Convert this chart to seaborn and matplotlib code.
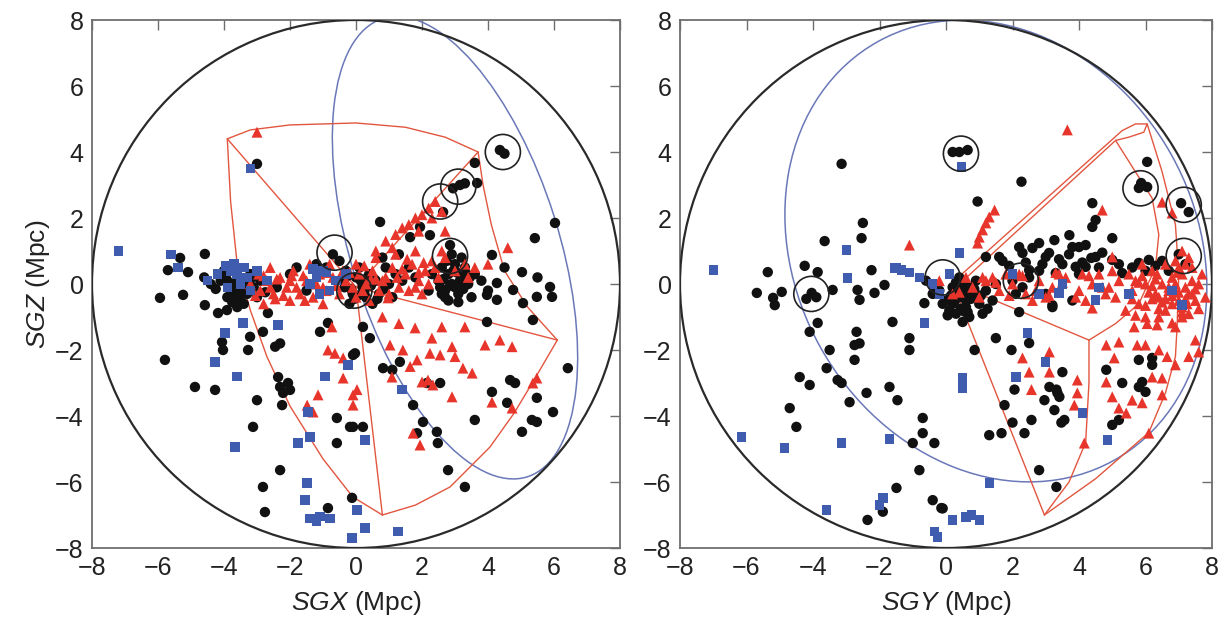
import numpy as np
import pandas as pd
import matplotlib
matplotlib.use("Agg")
import matplotlib.pyplot as plt
from matplotlib.patches import Circle, Ellipse
import seaborn as sns

# ---------------- data: left panel (SGX, SGZ) ----------------
left_black_x = [-3.9,-3.7,-3.5,-3.6,-3.4,-3.8,-3.3,-3.1,-3.9,-3.5,-3.2,-4.1,-3.0,-3.7,-3.4,-3.6,-4.4,-4.6,-4.0,-2.9,
                -5.94,-5.24,-4.58,-4.18,-3.91,-5.79,-4.88,-4.27,-4.06,-4.03,-3.27,-3.21,-2.82,-2.67,-2.45,-2.3,-2.36,-2.3,-2.06,-2.0,
                -2.24,-2.21,-3.0,-3.12,-2.3,-2.82,-2.76,-0.85,-0.12,-1.09,-0.85,-0.58,-0.09,-0.58,-0.09,-3.0,-4.58,-5.33,-5.7,-5.09,
                4.36,4.5,3.6,3.67,3.15,2.94,3.3,2.64,0.73,6.03,5.42,5.03,1.94,2.24,1.64,2.85,4.12,
                -0.7,-0.5,-0.9,-0.3,0.1,0.4,0.6,0.2,-0.1,0.3,0.7,1.0,1.2,0.9,1.4,-0.4,0.0,0.5,1.1,1.6,1.8,0.8,1.3,-0.2,
                2.6,2.8,3.0,3.2,2.9,2.7,3.1,3.4,2.5,3.3,2.8,3.0,3.5,2.6,3.2,2.9,3.6,2.3,3.8,4.0,2.2,
                3.97,4.27,4.27,4.76,5.06,5.36,5.48,5.88,5.94,3.97,4.5,5.5,
                0.21,0.42,-0.03,0.82,1.1,1.33,1.73,2.03,2.45,2.48,1.85,2.79,3.3,3.6,4.12,4.58,4.67,4.82,5.03,5.33,
                5.48,5.48,5.97,6.42,2.15,2.55,-0.18,0.21,-2.0,-1.5,-2.4,-1.8,-1.2,
                -3.8,-3.55,-3.3,-3.65,-3.45,-3.95,-3.25,-3.75,-4.25,-3.15,-2.75,
                -0.15,0.05,0.25,0.45,-0.35,0.15,0.35,-0.05,0.65,0.55,-0.25,0.85,
                2.65,2.85,3.05,3.25,2.75,2.95,3.15,3.35,2.55,3.45,2.7,3.1]
left_black_z = [0.1,0.0,-0.1,0.2,0.1,-0.2,-0.3,-0.1,-0.4,-0.5,0.3,0.1,-0.4,-0.3,-0.6,-0.7,0.0,0.2,0.4,0.1,
                -0.42,-0.33,-0.64,-0.88,-0.79,-2.3,-3.12,-3.21,-1.76,-2.0,-2.0,-1.6,-1.45,-0.88,-1.9,-1.8,-2.82,-3.12,-3.0,-3.21,
                -3.67,-3.3,-3.52,-4.33,-5.64,-6.15,-6.91,-6.79,-6.48,-1.45,-1.18,-4.06,-4.33,-4.82,-2.15,3.64,0.91,0.79,0.42,0.36,
                4.06,3.95,3.67,3.06,3.0,2.9,3.05,2.18,1.88,1.85,1.39,0.36,1.73,1.48,1.42,1.18,0.88,
                0.9,0.7,0.5,0.4,0.5,0.3,0.1,-0.1,-0.3,-0.4,-0.3,0.0,0.3,0.5,0.1,0.1,0.2,-0.6,-0.4,0.5,0.2,0.8,0.9,-0.6,
                0.5,0.3,0.6,0.2,0.0,-0.2,-0.3,0.0,0.1,0.5,-0.5,-0.1,-0.4,-0.3,0.8,0.9,0.3,0.3,0.1,-0.2,-0.2,
                -0.33,-0.48,0.03,-0.18,-0.58,-1.09,-0.39,-0.09,-0.39,-1.15,0.5,0.2,
                -1.3,-1.64,-2.1,-2.55,-2.6,-2.36,-3.67,-4.18,-4.48,-4.82,-4.52,-5.64,-6.15,-4.12,-3.27,-3.6,-2.91,-3.0,-4.48,-4.12,
                -4.18,-3.45,-3.88,-2.55,-3.0,-3.0,-4.33,-4.33,0.3,-0.2,-0.1,0.5,0.6,
                -0.05,0.15,-0.15,-0.45,-0.25,0.25,0.05,-0.55,-0.15,0.2,-0.25,
                -0.15,-0.35,-0.25,-0.05,-0.1,0.1,0.2,-0.45,-0.45,0.15,0.25,-0.15,
                0.15,-0.05,0.35,-0.15,0.7,0.4,0.1,0.3,-0.1,0.2,-0.4,-0.55]

left_red_x = [-3.0,
              0.9,1.2,1.4,1.6,1.8,2.0,2.2,2.4,2.3,1.9,2.6,1.1,2.7,0.6,
              -3.2,-2.9,-2.7,-2.5,-2.3,-2.1,-1.9,-1.7,-1.5,-1.3,-1.1,-0.9,-0.7,-0.5,-0.3,-0.1,0.1,0.3,0.5,0.7,
              0.9,1.1,1.3,1.5,1.7,1.9,2.1,2.3,2.5,2.7,3.0,3.3,3.6,-2.6,-2.0,-1.4,-0.8,0.0,0.6,1.2,
              1.8,-2.8,-1.0,0.4,2.0,4.0,4.6,0.0,-0.4,0.8,1.6,
              1.79,2.3,1.03,1.42,2.24,2.55,2.91,3.3,1.85,1.64,1.09,2.0,2.18,2.33,2.91,3.24,3.52,3.91,4.36,4.73,
              5.48,5.36,4.12,4.73,1.73,1.94,0.03,-0.09,0.97,-0.85,-0.64,-0.39,-0.39,-1.15,-1.48,-1.3,-0.09,-0.73,0.8,1.3,
              2.6,3.0,
              -3.05,-2.8,-2.6,-2.4,-2.2,-2.0,-1.8,-1.6,-1.2,-1.0,-0.6,-0.2,0.2,0.6,1.0,1.4,1.8,2.2,2.4,
              -2.95,-2.45,-1.95,-1.55,-0.85,0.45,1.25,2.05,0.25,1.55,1.9,2.6,3.4]
left_red_z = [4.6,
              1.3,1.5,1.7,1.8,2.0,2.1,2.3,2.5,2.0,1.6,2.2,1.1,1.6,1.0,
              0.0,-0.2,0.1,-0.3,0.2,-0.1,0.4,-0.3,0.1,-0.4,0.3,-0.2,0.2,-0.3,0.1,-0.1,0.3,0.0,0.4,-0.2,
              0.2,0.5,-0.1,0.3,0.6,0.1,0.4,0.7,0.2,0.8,0.4,0.6,0.5,0.5,-0.5,0.6,0.6,0.6,0.8,0.9,
              1.0,-0.6,-0.6,-0.5,-0.3,0.6,1.1,-0.4,0.4,0.1,-0.2,
              -1.33,-1.64,-1.85,-2.0,-2.1,-2.15,-1.9,-1.3,-2.3,-2.5,-2.82,-2.97,-2.91,-3.06,-3.42,-2.55,-2.7,-1.85,-1.7,-1.9,
              -2.85,-3.0,-3.58,-3.76,-4.52,-4.88,-3.2,-3.67,-0.42,-2.0,-2.1,-2.24,-2.85,-3.36,-3.67,-3.88,-3.36,-1.3,-1.0,-1.2,
              -1.3,-2.2,
              -0.35,0.25,-0.1,0.15,-0.35,0.1,-0.1,0.25,0.0,-0.1,-0.05,0.35,-0.2,0.15,-0.3,0.45,-0.1,0.0,0.5,
              0.3,-0.45,0.25,-0.5,0.35,0.15,0.2,0.65,0.55,0.75,0.35,1.0,0.2]

left_blue_x = [-7.2,-5.6,-5.4,-3.2,-3.8,-3.6,-3.4,-3.3,-3.9,-3.5,-3.2,-4.2,-4.5,-3.0,-2.7,-1.2,-1.0,-0.8,-1.4,-0.6,
               -1.1,-0.3,-3.42,-2.36,-3.97,-4.27,-3.6,-3.67,-1.76,-1.39,-0.94,-1.48,-1.55,-1.39,-1.09,-0.79,-0.12,0.03,-0.24,-1.45,
               1.39,0.27,0.27,1.27,-1.2,-3.7,-3.95,-1.3,-0.9]
left_blue_z = [1.0,0.9,0.5,3.5,0.4,0.3,0.5,0.2,-0.1,0.0,-0.2,0.3,0.1,0.4,0.1,0.2,0.4,-0.2,0.0,0.1,
               -0.3,0.3,-1.18,-1.24,-1.48,-2.36,-2.8,-4.94,-4.82,-4.64,-2.8,-6.03,-6.55,-7.1,-7.05,-7.1,-7.7,-6.85,-2.45,-3.88,
               -3.2,-4.73,-7.4,-7.5,-7.2,0.6,0.55,0.45,0.35]

left_ring_x = [4.45, 3.1, 2.55, 2.85, -0.65, -0.05]
left_ring_z = [4.0, 2.95, 2.5, 0.85, 0.95, -0.2]

# red outline (cone) in the SGX-SGZ projection
left_cone_apex = (0.0, -0.1)
left_cone_corners_x = [-3.9, 3.7, 6.1, 0.8]
left_cone_corners_z = [4.4, 4.0, -1.7, -7.0]
left_arc_ab_x = [-3.9,-3.2,-2.0,0.0,1.5,2.7,3.7]
left_arc_ab_z = [4.4,4.67,4.82,4.88,4.75,4.45,4.0]
left_arc_bc_x = [3.7,3.85,4.1,4.5,5.2,6.1]
left_arc_bc_z = [4.0,3.0,1.8,0.4,-0.7,-1.7]
left_arc_cd_x = [6.1,5.4,4.8,4.06,2.85,1.8,0.8]
left_arc_cd_z = [-1.7,-2.9,-3.9,-4.94,-6.15,-6.7,-7.0]
left_arc_da_x = [0.8,-0.1,-1.0,-2.0,-2.7,-3.2,-3.6,-3.8,-3.9]
left_arc_da_z = [-7.0,-6.45,-5.3,-3.7,-2.2,-0.8,0.6,2.5,4.4]
left_ellipse = dict(cx=3.0, cz=1.1, width=14.56, height=6.3, angle=-72.5)

# ---------------- data: right panel (SGY, SGZ) ----------------
right_black_y = [-3.14,-2.5,-2.54,-3.65,-5.36,-4.25,-3.86,-2.24,
                 -5.69,-5.2,-5.15,-4.94,-4.04,-4.2,-3.9,-3.41,-3.86,-4.1,-3.5,-3.59,-3.26,-3.14,-4.4,-4.1,-2.9,-4.7,-4.5,
                 -2.69,-2.75,-2.6,-2.75,-2.39,-1.7,-1.46,-1.61,-1.1,-1.1,-0.7,-0.7,-1.0,-0.35,-0.8,-1.49,-1.9,-2.36,-0.4,-0.14,
                 -2.66,-2.6,-2.15,-1.85,-0.65,
                 0.56,2.2,3.2,1.5,0.86,1.97,2.5,2.06,1.76,2.0,2.57,1.3,1.67,2.36,2.96,3.11,3.32,3.41,3.26,3.35,3.47,3.56,3.5,
                 2.8,3.32,4.82,5.0,5.2,5.3,5.8,6.0,5.9,5.8,6.2,6.2,-0.1,
                 2.27,0.95,4.4,4.5,4.4,6.05,5.87,6.05,5.8,7.07,7.3,0.65,0.4,0.2,5.0,3.71,3.26,2.8,2.6,2.2,2.3,1.6,4.0,4.2,3.8,
                 3.1,3.0,4.37,4.5,5.0,5.8,6.1,1.2,3.9,4.2,3.3,2.5,5.3,3.2,
                 -0.2,0.0,0.2,0.4,0.6,0.8,1.0,1.2,0.1,0.5,0.9,-0.1,0.3,0.7,1.1,1.4,0.4,-0.4,-0.6,1.5,0.6,0.2,
                 2.0,2.3,2.5,2.1,2.8,3.5,4.0,4.6,5.2,5.6,6.0,6.5,7.0,7.2,3.0,3.8,
                 0.15,0.35,0.55,0.75,0.95,0.25,0.45,0.65,0.85,1.05,0.05,1.25,0.3,0.7,0.5,
                 2.9,3.4,3.7,4.1,4.7,1.9,2.4,6.3,6.7,1.7]
right_black_z = [3.64,1.85,1.39,1.3,0.36,0.55,0.36,0.42,
                 -0.27,-0.42,-0.64,-0.24,-0.27,-0.45,-0.4,-0.18,-1.18,-1.45,-2.0,-2.55,-2.91,-3.0,-2.82,-3.06,-3.58,-3.76,-4.33,
                 -1.45,-1.85,-1.8,-2.3,-3.3,-3.12,-3.52,-1.15,-1.64,-2.0,-4.06,-4.52,-4.82,-4.82,-5.64,-6.18,-6.9,-7.15,-6.55,-6.79,
                 -0.18,-0.48,-0.27,-0.03,-0.58,
                 -0.84,-0.85,-0.64,-1.64,-2.0,-2.0,-1.79,-3.2,-3.67,-4.2,-4.12,-4.58,-4.52,-4.52,-3.52,-3.12,-3.2,-3.42,-3.82,-3.3,-4.2,-4.12,-2.67,
                 -5.64,-6.15,-2.6,-4.27,-4.12,-3.0,-3.12,-3.27,-2.97,-2.3,-2.24,-2.45,-6.8,
                 3.1,2.5,2.45,1.94,1.73,3.7,3.06,2.94,2.91,2.45,2.18,4.06,4.0,4.0,1.39,1.48,1.33,1.24,1.09,1.12,0.94,0.82,1.12,1.18,1.12,
                 0.94,0.82,0.79,0.82,0.73,0.64,0.73,0.82,0.52,0.52,0.33,0.42,0.33,-0.7,
                 -0.2,-0.5,-0.1,-0.4,-0.7,-0.3,-0.6,-0.2,-0.8,0.0,0.1,-0.6,-0.9,-1.0,-0.9,-0.5,0.2,-0.3,0.1,0.0,-0.5,-0.6,
                 0.1,-0.1,0.2,-0.3,0.4,0.6,0.3,0.5,0.6,0.5,0.4,0.7,0.9,0.6,-0.3,-0.5,
                 -0.35,-0.15,-0.25,-0.45,-0.35,-0.55,-0.75,-0.85,-0.15,-0.35,-0.95,-0.75,0.05,-0.1,-1.15,
                 0.6,0.75,0.9,0.65,0.95,0.55,0.65,0.55,0.4,0.7]

right_red_y = [-1.1,3.65,4.7,1.46,1.3,1.2,1.1,1.0,0.95,6.5,6.8,6.9,7.1,7.3,7.0,7.2,
               2.3,2.5,2.57,3.11,3.11,3.95,3.95,3.86,4.16,4.82,5.2,5.06,4.82,5.0,5.2,5.42,5.6,5.9,5.66,6.35,5.75,6.0,
               6.4,6.65,6.9,6.2,6.5,6.5,6.1,7.5,7.6,7.3,4.4,7.1,6.8,5.0,
               0.8,1.2,1.6,2.0,2.4,2.8,3.2,3.6,4.0,4.4,4.8,5.2,5.6,6.0,6.4,6.8,7.2,7.6,1.0,1.8,2.6,3.4,4.2,5.0,
               5.8,6.2,6.6,7.0,7.4,7.8,5.4,6.0,6.9,7.3,5.5,6.3,7.1,6.7,4.6,3.0,2.2,1.4,0.6,-0.2,0.2,5.9,6.6,7.5,
               7.7,6.4,5.7,
               5.6,5.8,6.1,6.3,6.5,6.7,6.9,7.1,7.3,7.5,5.7,6.0,6.2,6.4,6.6,6.8,7.0,7.2,7.4,7.6,
               5.9,6.2,6.5,6.8,7.1,7.4,6.05,6.35,6.95,7.25,
               1.1,1.5,1.9,2.3,2.7,3.1,3.5,3.9,4.3,4.7,5.1,0.4,3.3,4.1,4.9]
right_red_z = [1.18,4.67,2.24,2.24,2.03,1.85,1.64,1.42,1.24,2.48,2.15,0.7,1.0,0.8,0.5,0.6,
               -2.24,-2.67,-3.2,-2.06,-2.67,-2.91,-3.3,-3.67,-4.82,-1.85,-1.76,-2.24,-2.97,-3.42,-3.76,-3.91,-3.52,-3.6,-1.3,-1.24,-1.85,-1.85,
               -2.0,-2.2,-2.45,-2.82,-2.85,-3.36,-4.52,-1.7,-2.06,-2.2,-0.73,-1.0,-1.18,0.82,
               -0.1,0.1,-0.2,0.0,-0.3,0.1,-0.1,0.2,-0.2,0.0,-0.3,0.1,-0.2,0.0,-0.4,0.2,-0.1,0.0,-0.4,0.3,-0.5,0.3,-0.5,0.4,
               -0.6,0.4,-0.8,-0.5,0.5,-0.4,-0.8,-1.0,-1.3,-0.9,0.3,-0.3,0.3,-0.1,0.3,-0.4,0.3,0.2,0.2,0.1,-0.3,0.6,0.6,-0.5,
               0.3,-1.0,0.1,
               -0.45,0.05,-0.25,0.15,-0.55,-0.2,0.0,-0.7,-0.3,-0.15,-0.95,-0.65,-0.05,-0.75,-0.45,-0.6,-0.25,-0.45,0.1,-0.75,
               0.25,-0.45,0.0,-0.35,-0.85,-0.3,-1.2,0.3,0.35,-0.6,
               0.2,0.05,-0.35,0.25,-0.2,-0.35,0.05,-0.4,0.25,-0.1,-0.4,-0.25,0.35,0.3,-0.1]

right_blue_y = [-7.0,-2.99,-2.96,-1.55,-1.34,-6.15,-4.85,-3.14,-1.7,-3.59,-1.9,-2.0,-0.65,-0.35,-0.26,
                2.45,3.0,2.1,4.1,4.85,1.3,0.5,0.5,0.6,1.0,0.77,0.2,3.4,4.5,7.1,
                -0.8,-0.4,0.1,-1.5,2.8,3.5,4.6,5.5,-0.2,0.47,0.4,-1.1,6.8,2.0]
right_blue_z = [0.42,1.03,0.18,0.48,0.42,-4.64,-4.97,-4.82,-4.7,-6.85,-6.48,-6.7,-1.18,-7.5,-7.67,
                -1.48,-2.36,-2.82,-3.91,-4.73,-6.03,-2.85,-3.15,-7.06,-7.15,-7.0,-7.15,-0.27,-0.48,-0.64,
                0.2,0.0,0.3,0.5,-0.3,0.0,-0.1,-0.3,-0.3,3.55,0.94,0.35,-0.2,0.3]

right_ring_y = [0.45, 5.85, 7.15, 7.15, -4.05, -0.1, 2.25]
right_ring_z = [3.95, 2.9, 2.4, 0.85, -0.3, 0.2, 0.1]

right_loop_y = [0.2,5.3,5.7,6.05,5.95,5.5,5.1,0.35]
right_loop_z = [0.05,4.65,4.85,4.85,4.6,4.45,4.35,-0.05]
right_ray_d_y = [0.2,2.96]
right_ray_d_z = [0.0,-7.0]
right_ray_c_y = [0.3,4.3]
right_ray_c_z = [0.0,-1.7]
right_arc_cd_y = [4.3,4.3,4.2,3.7,2.96]
right_arc_cd_z = [-1.7,-3.0,-4.8,-6.0,-7.0]
right_arc_cb_y = [4.3,5.1,5.8,6.3,6.4,6.2,5.1]
right_arc_cb_z = [-1.7,-1.2,-0.6,0.5,1.5,2.6,4.35]
right_arc_da_y = [2.96,4.5,6.1,6.6,6.9,6.95,7.0,6.9,6.5,6.05]
right_arc_da_z = [-7.0,-5.9,-4.5,-3.3,-2.2,-1.3,0.3,1.8,3.4,4.85]
right_ellipse = dict(cx=1.5, cz=1.0, width=14.54, height=12.06, angle=-60.9)

# ---------------- style ----------------
sns.set_style("white")
plt.rcParams['font.family'] = ['Liberation Sans', 'DejaVu Sans']
plt.rcParams['mathtext.fontset'] = 'custom'
plt.rcParams['mathtext.it'] = 'Liberation Sans:italic'
plt.rcParams['mathtext.rm'] = 'Liberation Sans'

BLACK = '#111111'
RED = '#e8352b'
BLUE = '#3f5cae'
LINE_RED = '#e2563f'
LINE_BLUE = '#6a78b8'
SPINE = '#6e6e6e'

fig = plt.figure(figsize=(12.23, 6.29), dpi=100)
ax1 = fig.add_axes([92/1223, 1-548/629, 528/1223, 528/629])
ax2 = fig.add_axes([680/1223, 1-548/629, 532/1223, 528/629])


def draw_points(ax, bx, bz, rx, rz, ux, uz, gx, gz):
    sns.scatterplot(x=bx, y=bz, ax=ax, color=BLACK, marker='o', s=56,
                    edgecolor='none', linewidth=0, zorder=4, legend=False)
    sns.scatterplot(x=rx, y=rz, ax=ax, color=RED, marker='^', s=62,
                    edgecolor='none', linewidth=0, zorder=5, legend=False)
    sns.scatterplot(x=ux, y=uz, ax=ax, color=BLUE, marker='s', s=46,
                    edgecolor='none', linewidth=0, zorder=5, legend=False)
    sns.scatterplot(x=gx, y=gz, ax=ax, marker='o', s=640, facecolor='none',
                    edgecolor='#222222', linewidth=1.2, zorder=6, legend=False)


def frame(ax, xlabel, show_ylabel):
    ax.add_patch(Circle((0, 0), 8, fill=False, edgecolor='#2a2a2a', lw=1.6, zorder=3))
    ax.set_xlim(-8, 8)
    ax.set_ylim(-8, 8)
    ax.set_xticks(np.arange(-8, 9, 2))
    ax.set_yticks(np.arange(-8, 9, 2))
    ax.set_xticklabels([str(v).replace('-', '\u2212') for v in range(-8, 9, 2)])
    ax.set_yticklabels([str(v).replace('-', '\u2212') for v in range(-8, 9, 2)])
    ax.tick_params(direction='in', length=7, width=1.0, color=SPINE,
                   top=True, right=True, labelsize=18, pad=6, labelcolor='#222222')
    for sp in ax.spines.values():
        sp.set_color(SPINE)
        sp.set_linewidth(1.3)
    ax.set_xlabel(xlabel, fontsize=19, labelpad=6, color='#222222')
    if show_ylabel:
        ax.set_ylabel(r'$\it{SGZ}$ (Mpc)', fontsize=19, labelpad=2, color='#222222')
    else:
        ax.set_ylabel('')


# ---- left panel ----
e = left_ellipse
ax1.add_patch(Ellipse((e['cx'], e['cz']), e['width'], e['height'], angle=e['angle'],
                      fill=False, edgecolor=LINE_BLUE, lw=1.1, zorder=2))
for cx, cz in zip(left_cone_corners_x, left_cone_corners_z):
    ax1.plot([left_cone_apex[0], cx], [left_cone_apex[1], cz], color=LINE_RED, lw=1.0, zorder=2)
for xs, zs in [(left_arc_ab_x, left_arc_ab_z), (left_arc_bc_x, left_arc_bc_z),
               (left_arc_cd_x, left_arc_cd_z), (left_arc_da_x, left_arc_da_z)]:
    ax1.plot(xs, zs, color=LINE_RED, lw=1.0, zorder=2)
draw_points(ax1, left_black_x, left_black_z, left_red_x, left_red_z,
            left_blue_x, left_blue_z, left_ring_x, left_ring_z)
frame(ax1, r'$\it{SGX}$ (Mpc)', True)

# ---- right panel ----
e = right_ellipse
ax2.add_patch(Ellipse((e['cx'], e['cz']), e['width'], e['height'], angle=e['angle'],
                      fill=False, edgecolor=LINE_BLUE, lw=1.1, zorder=2))
for xs, zs in [(right_loop_y, right_loop_z), (right_ray_d_y, right_ray_d_z),
               (right_ray_c_y, right_ray_c_z), (right_arc_cd_y, right_arc_cd_z),
               (right_arc_cb_y, right_arc_cb_z), (right_arc_da_y, right_arc_da_z)]:
    ax2.plot(xs, zs, color=LINE_RED, lw=1.0, zorder=2)
draw_points(ax2, right_black_y, right_black_z, right_red_y, right_red_z,
            right_blue_y, right_blue_z, right_ring_y, right_ring_z)
frame(ax2, r'$\it{SGY}$ (Mpc)', False)

fig.savefig('out.png', dpi=100)
